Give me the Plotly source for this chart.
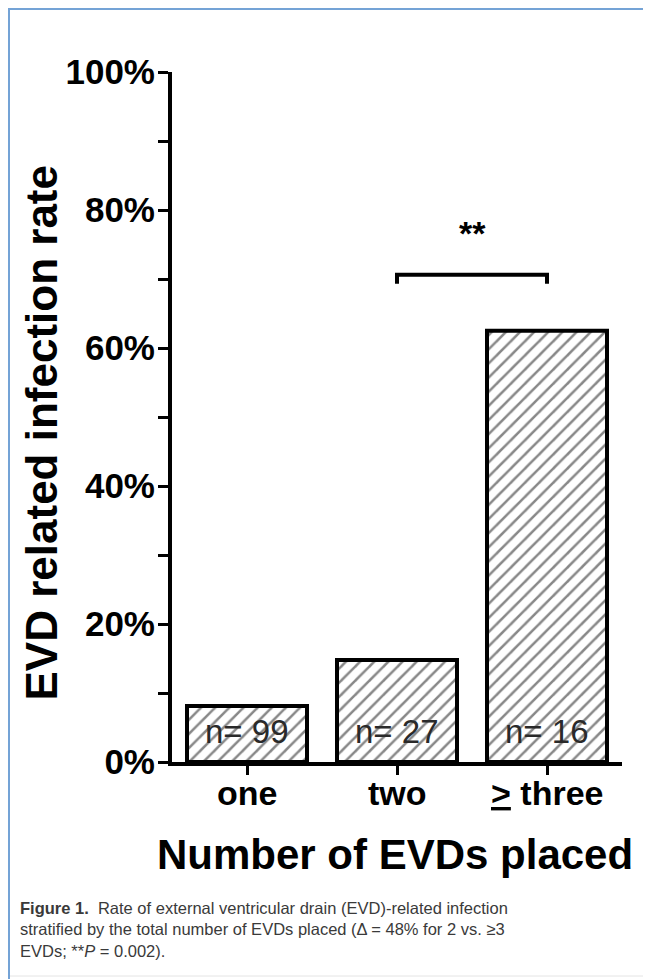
import plotly.graph_objects as go

# ---- data ----
categories = ["one", "two", "\u2265 three"]
tick_labels = ["one", "two", "<u>&gt;</u> three"]
infection_rate = [8.1, 14.8, 62.5]          # percent
n_labels = ["n= 99", "n= 27", "n= 16"]
y_tickvals = [0, 10, 20, 30, 40, 50, 60, 70, 80, 90, 100]
y_ticktext = ["0%", "", "20%", "", "40%", "", "60%", "", "80%", "", "100%"]
sig_pair = [1, 2]
sig_level = 70.6
sig_text = "**"
caption_lines = [
    "<b>Figure 1.</b>  Rate of external ventricular drain (EVD)-related infection",
    "stratified by the total number of EVDs placed (\u0394 = 48% for 2 vs. \u22653",
    "EVDs; **<i>P</i> = 0.002).",
]

OFF = 8                     # page body margin
W, H = 651 - OFF, 979 - OFF
L, R, T, B = 172 - OFF, 29, 72 - OFF, 217
pw, ph = W - L - R, H - T - B

def px(x):  # page pixel -> paper x
    return (x - OFF - L) / pw

def py(y):  # page pixel -> paper y
    return (H - B - (y - OFF)) / ph

FONT = "Liberation Sans, Arial, Helvetica, sans-serif"

fig = go.Figure()
fig.add_trace(go.Bar(
    x=[0, 1, 2],
    y=infection_rate,
    width=0.8,
    marker=dict(
        color="white",
        line=dict(color="black", width=4),
        pattern=dict(shape="/", size=10, solidity=0.25, fgcolor="#111111", bgcolor="white", fillmode="overlay"),
    ),
    showlegend=False,
    hoverinfo="skip",
))

# n labels inside bars
for i, t in enumerate(n_labels):
    fig.add_annotation(x=i, y=0, xref="x", yref="y", text=t, showarrow=False,
                       yanchor="bottom", yshift=10,
                       font=dict(family=FONT, size=33, color="#2a2a2a"))

# category labels
for i, t in enumerate(tick_labels):
    fig.add_annotation(x=i, y=py(793), xref="x", yref="paper", text=f"<b>{t}</b>",
                       showarrow=False, yanchor="middle",
                       font=dict(family=FONT, size=34, color="black"))

# significance bracket
fig.add_shape(type="path", xref="x", yref="y",
              path=f"M {sig_pair[0]},{sig_level-1.3} L {sig_pair[0]},{sig_level} L {sig_pair[1]},{sig_level} L {sig_pair[1]},{sig_level-1.3}",
              line=dict(color="black", width=4))
fig.add_annotation(x=(sig_pair[0] + sig_pair[1]) / 2, y=sig_level + 3, xref="x", yref="y",
                   text=f"<b>{sig_text}</b>", showarrow=False, yanchor="bottom",
                   font=dict(family=FONT, size=34, color="black"))

# axis titles
fig.add_annotation(x=px(14), y=py(433), xref="paper", yref="paper",
                   text="<b>EVD related infection rate</b>", textangle=-90, showarrow=False,
                   font=dict(family=FONT, size=44, color="black"))
fig.add_annotation(x=px(395), y=py(855), xref="paper", yref="paper",
                   text="<b>Number of EVDs placed</b>", showarrow=False, yanchor="middle",
                   font=dict(family=FONT, size=42, color="black"))

# caption (single text block)
fig.add_annotation(x=px(18), y=py(929), xref="paper", yref="paper",
                   text="<br>".join(caption_lines), showarrow=False,
                   xanchor="left", yanchor="middle", align="left",
                   font=dict(family=FONT, size=16.5, color="#3a3a3a"))

# blue frame and faint bottom rule
fig.add_shape(type="line", xref="paper", yref="paper", x0=px(8), x1=px(660), y0=py(8.5), y1=py(8.5),
              line=dict(color="#74a3d6", width=3))
fig.add_shape(type="line", xref="paper", yref="paper", x0=px(8.5), x1=px(8.5), y0=py(8), y1=py(990),
              line=dict(color="#74a3d6", width=3))
fig.add_shape(type="line", xref="paper", yref="paper", x0=px(10), x1=px(660), y0=py(976), y1=py(976),
              line=dict(color="#e4e4e4", width=1))

fig.update_layout(
    width=W, height=H,
    margin=dict(l=L, r=R, t=T, b=B, autoexpand=False),
    paper_bgcolor="white", plot_bgcolor="white",
    bargap=0.2,
    font=dict(family=FONT, color="black"),
    xaxis=dict(
        range=[-0.5, 2.5],
        tickmode="array", tickvals=[0, 1, 2], ticktext=["", "", ""],
        showline=True, linecolor="black", linewidth=4,
        ticks="outside", ticklen=9, tickwidth=3, tickcolor="black",
        showgrid=False, zeroline=False, fixedrange=True,
    ),
    yaxis=dict(
        range=[0, 100],
        tickmode="array", tickvals=y_tickvals, ticktext=[f"<b>{t}</b>" if t else "" for t in y_ticktext],
        tickfont=dict(family=FONT, size=35, color="black"),
        ticklabelstandoff=-4,
        showline=True, linecolor="black", linewidth=4,
        ticks="outside", ticklen=10, tickwidth=3, tickcolor="black",
        showgrid=False, zeroline=False, fixedrange=True,
    ),
)

fig.write_html("out.html")
